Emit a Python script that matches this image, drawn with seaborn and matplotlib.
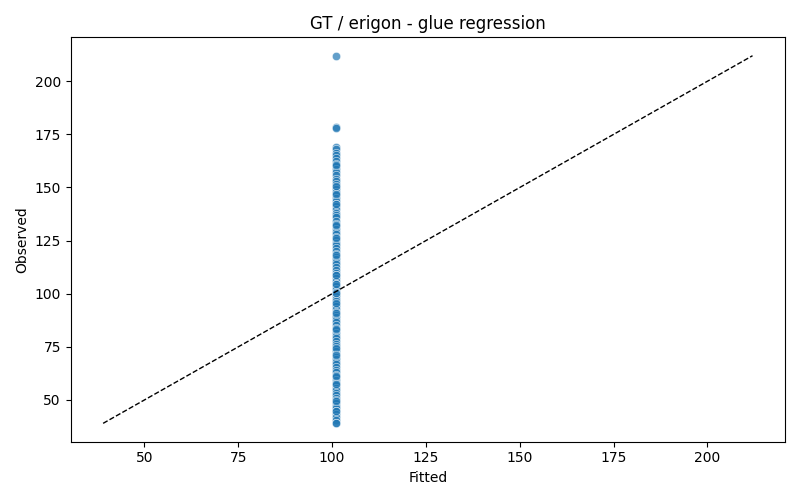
import numpy as np
import pandas as pd
import seaborn as sns
import matplotlib
matplotlib.use('Agg')
import matplotlib.pyplot as plt

observed = [
    212.0, 178.5, 178.2, 169.0, 168.1, 166.4, 165.2, 163.9, 162.5, 161.0, 160.2,
    158.7, 157.4, 155.8, 154.1, 153.0, 151.6, 150.2, 149.1, 147.7, 146.3, 145.0,
    143.8, 142.4, 141.5, 139.8, 138.2, 137.1, 135.9, 134.4, 133.0, 131.7, 130.5,
    129.2, 128.0, 126.6, 125.3, 124.1, 122.8, 121.4, 120.2, 118.9, 117.5, 116.3,
    115.0, 113.8, 112.4, 111.1, 109.9, 108.6, 107.3, 106.0, 104.8, 103.5, 102.2,
    101.0, 100.1, 99.0, 97.7, 96.4, 95.2, 94.0, 92.7, 91.5, 90.2, 89.0, 87.7,
    86.5, 85.2, 84.0, 82.8, 81.5, 80.3, 79.0, 77.8, 76.5, 75.3, 74.1, 72.9,
    71.6, 70.4, 69.1, 67.9, 66.7, 65.4, 64.2, 63.0, 61.8, 60.6, 59.4, 58.2,
    57.0, 55.8, 54.6, 53.4, 52.2, 51.0, 49.8, 48.5, 47.3, 46.1, 44.9, 43.5,
    42.0, 40.6, 39.2,
    160.5, 150.8, 147.0, 142.0, 132.2, 126.0, 118.0, 108.8, 104.6, 100.5, 95.8,
    91.0, 83.2, 74.6, 71.0, 61.2, 57.5, 49.5, 45.0, 39.0,
]
fitted_value = 101.0
fitted = [fitted_value] * len(observed)

df = pd.DataFrame({'Fitted': fitted, 'Observed': observed})

fig, ax = plt.subplots(figsize=(8, 5), dpi=100)
sns.scatterplot(data=df, x='Fitted', y='Observed', alpha=0.7, ax=ax)

lo = min(min(observed), min(fitted))
hi = max(max(observed), max(fitted))
ax.plot([lo, hi], [lo, hi], color='black', linestyle='--', linewidth=1)

ax.set_title('GT / erigon - glue regression')
ax.set_xlabel('Fitted')
ax.set_ylabel('Observed')

fig.tight_layout()
fig.savefig('out.png')
